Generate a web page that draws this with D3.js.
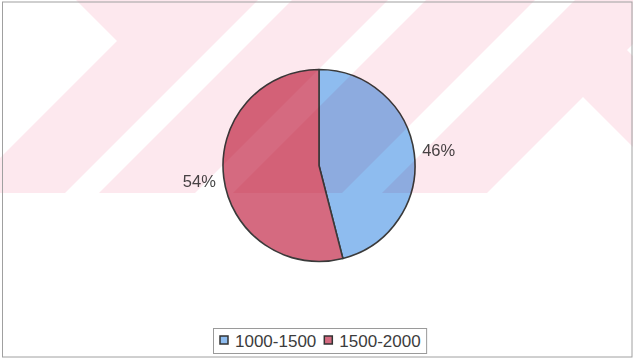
<!DOCTYPE html>
<html>
<head>
<meta charset="utf-8">
<script src="https://cdn.jsdelivr.net/npm/d3@7"></script>
<style>
  html, body { margin: 0; padding: 0; background: #fff; }
  svg { display: block; }
  text { font-family: "Liberation Sans", Arial, sans-serif; }
</style>
</head>
<body>
<svg id="chart" width="633" height="359"></svg>
<script>
const categories = ["1000-1500", "1500-2000"];
const values = [46, 54];
const percentLabels = ["46%", "54%"];
const sliceColors = ["#8ebcef", "#d56a80"];

const W = 633, H = 359;
const svg = d3.select("#chart");

svg.append("rect").attr("width", W).attr("height", H).attr("fill", "#fff");

// Pie
const cx = 319, cy = 165.5, r = 96;
const pie = d3.pie().sort(null).value(d => d)(values);
const arc = d3.arc().innerRadius(0).outerRadius(r);
const g = svg.append("g").attr("transform", `translate(${cx},${cy})`);
g.selectAll("path.slice").data(pie).join("path")
  .attr("class", "slice")
  .attr("d", arc)
  .attr("fill", (d, i) => sliceColors[i])
  .attr("stroke", "#3a3a3a")
  .attr("stroke-width", 1.6)
  .attr("stroke-linejoin", "round");

// Percent labels outside
g.selectAll("text.pct").data(pie).join("text")
  .attr("class", "pct")
  .attr("x", d => { const a = (d.startAngle + d.endAngle) / 2; return 104 * Math.sin(a); })
  .attr("y", d => { const a = (d.startAngle + d.endAngle) / 2; return -122 * Math.cos(a); })
  .attr("text-anchor", d => { const a = (d.startAngle + d.endAngle) / 2; return Math.sin(a) >= 0 ? "start" : "end"; })
  .attr("dominant-baseline", "central")
  .attr("font-size", 16.5)
  .attr("fill", "#474747")
  .text((d, i) => percentLabels[i]);

// Watermark band (scanned background), multiplied over the chart
const band = "M0,0H633V193H0Z" +
  "M0,0L76,0L117,41L0,158Z" +
  "M258,0L292,0L99,193L65,193Z" +
  "M388,0L426,0L233,193L195,193Z" +
  "M535,0L575,0L382,193L342,193Z" +
  "M583,97L633,147L633,193L487,193Z" +
  "M627,50L633,44L633,56Z";
svg.append("path")
  .attr("d", band)
  .attr("fill", "#fde8ee")
  .attr("fill-rule", "evenodd")
  .style("mix-blend-mode", "multiply");

// Frame
svg.append("rect")
  .attr("x", 2.5).attr("y", 2).attr("width", 629.5).attr("height", 355)
  .attr("fill", "none").attr("stroke", "#a0a0a0").attr("stroke-width", 1);

// Legend
const legend = svg.append("g");
const legBox = legend.append("rect")
  .attr("fill", "#fff").attr("stroke", "#9a9a9a").attr("stroke-width", 1);
let lx = 220;
categories.forEach((c, i) => {
  legend.append("rect")
    .attr("x", lx).attr("y", 336).attr("width", 8).attr("height", 8)
    .attr("fill", sliceColors[i]).attr("stroke", "#333").attr("stroke-width", 1.5);
  const t = legend.append("text")
    .attr("x", lx + 15).attr("y", 346.5)
    .attr("font-size", 17).attr("fill", "#3c3c3c")
    .text(c);
  const w = t.node().getComputedTextLength();
  lx = lx + 15 + w + 8;
});
legBox.attr("x", 213.5).attr("y", 328.5).attr("width", lx - 8 + 6 - 213.5).attr("height", 25);
</script>
</body>
</html>
